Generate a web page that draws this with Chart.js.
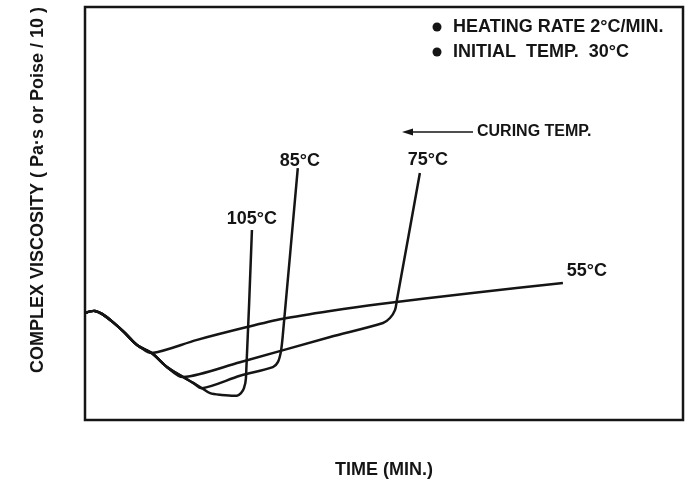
<!DOCTYPE html>
<html>
<head>
<meta charset="utf-8">
<script src="https://cdn.jsdelivr.net/npm/chart.js@4"></script>
<style>
  html, body { margin: 0; padding: 0; background: #fff; }
</style>
</head>
<body>
<canvas id="viscosityChart" width="693" height="485"></canvas>
<script>
// values: time in min (0-120), viscosity in arbitrary units (0-100)
const curveLabels = ['105°C', '85°C', '75°C', '55°C'];

const time105 = [0, 1.0, 2.0, 3.4, 5.6, 8.0, 10.0, 11.0, 13.4, 16.5, 19.7, 21.7, 23.5, 25.1, 27.1, 30.5, 31.3, 31.9, 32.3, 33.5];
const visc105 = [25.9, 26.3, 26.4, 25.7, 23.7, 21.1, 18.6, 17.7, 16.2, 12.8, 10.4, 9.0, 7.7, 6.5, 6.1, 5.9, 6.5, 7.7, 10.2, 46.0];

const time85 = [0, 1.0, 2.0, 3.4, 5.6, 8.0, 10.0, 11.0, 13.4, 16.5, 19.7, 21.7, 23.5, 31.1, 37.7, 38.7, 39.3, 39.7, 42.7];
const visc85 = [25.9, 26.3, 26.4, 25.7, 23.7, 21.1, 18.6, 17.7, 16.2, 12.8, 10.4, 9.0, 7.7, 10.7, 12.8, 14.0, 16.5, 20.6, 61.0];

const time75 = [0, 1.0, 2.0, 3.4, 5.6, 8.0, 10.0, 11.0, 13.4, 16.5, 19.7, 31.1, 49.2, 59.8, 61.2, 62.2, 62.6, 67.2];
const visc75 = [25.9, 26.3, 26.4, 25.7, 23.7, 21.1, 18.6, 17.7, 16.2, 12.8, 10.4, 14.0, 20.1, 23.5, 24.7, 26.6, 29.1, 59.8];

const time55 = [0, 1.0, 2.0, 3.4, 5.6, 8.0, 10.0, 11.0, 13.4, 22.5, 32.5, 39.7, 49.2, 59.2, 77.3, 95.9];
const visc55 = [25.9, 26.3, 26.4, 25.7, 23.7, 21.1, 18.6, 17.7, 16.2, 19.4, 22.5, 24.5, 26.4, 28.1, 30.7, 33.2];

const notes = ['HEATING RATE 2°C/MIN.', 'INITIAL  TEMP.  30°C'];
const arrowNote = 'CURING TEMP.';

const ink = '#151515';
const fontFamily = '"Liberation Sans", Arial, sans-serif';

const toPoints = (xs, ys) => xs.map((x, i) => ({ x, y: ys[i] }));
const series = [
  toPoints(time105, visc105),
  toPoints(time85, visc85),
  toPoints(time75, visc75),
  toPoints(time55, visc55),
];

// label offsets from each curve's last point, in pixels
const labelOffsets = [[0, -11], [2, -7], [8, -13], [24, -12]];

const annotate = {
  id: 'annotate',
  afterDatasetsDraw(chart) {
    const { ctx, chartArea: a, scales: { x, y } } = chart;
    ctx.save();
    ctx.strokeStyle = ink;
    ctx.lineWidth = 2.5;
    ctx.strokeRect(a.left, a.top, a.right - a.left, a.bottom - a.top);

    ctx.fillStyle = ink;
    ctx.textBaseline = 'middle';
    ctx.textAlign = 'center';
    ctx.font = 'bold 18px ' + fontFamily;
    series.forEach((pts, i) => {
      const last = pts[pts.length - 1];
      const px = x.getPixelForValue(last.x) + labelOffsets[i][0];
      const py = y.getPixelForValue(last.y) + labelOffsets[i][1];
      ctx.fillText(curveLabels[i], px, py);
    });

    // notes in the top right corner
    ctx.textAlign = 'left';
    notes.forEach((t, i) => {
      const ny = 27 + i * 25;
      ctx.beginPath();
      ctx.arc(437, ny, 4.5, 0, Math.PI * 2);
      ctx.fill();
      ctx.fillText(t, 453, ny);
    });

    // curing temp arrow
    ctx.lineWidth = 1.5;
    ctx.beginPath();
    ctx.moveTo(410, 132);
    ctx.lineTo(473, 132);
    ctx.stroke();
    ctx.beginPath();
    ctx.moveTo(402, 132);
    ctx.lineTo(413, 128.5);
    ctx.lineTo(413, 135.5);
    ctx.closePath();
    ctx.fill();
    ctx.font = 'bold 16px ' + fontFamily;
    ctx.fillText(arrowNote, 477, 132);
    ctx.restore();
  },
};

new Chart(document.getElementById('viscosityChart'), {
  type: 'scatter',
  data: {
    datasets: series.map((pts, i) => ({
      label: curveLabels[i],
      data: pts,
      showLine: true,
      borderColor: ink,
      borderWidth: 2.5,
      pointRadius: 0,
      tension: 0.3,
      fill: false,
    })),
  },
  options: {
    responsive: false,
    animation: false,
    devicePixelRatio: 1,
    layout: { padding: { top: 7, right: 10, left: 0, bottom: 0 } },
    plugins: { legend: { display: false }, tooltip: { enabled: false } },
    scales: {
      x: {
        type: 'linear',
        min: 0,
        max: 120,
        grid: { display: false },
        border: { display: false },
        ticks: { display: false },
        title: {
          display: true,
          text: 'TIME (MIN.)',
          color: ink,
          font: { family: fontFamily, size: 18, weight: 'bold' },
          padding: { top: 0, bottom: 4 },
        },
        afterFit(scale) { scale.height = 65; },
      },
      y: {
        type: 'linear',
        min: 0,
        max: 100,
        grid: { display: false },
        border: { display: false },
        ticks: { display: false },
        title: {
          display: true,
          text: 'COMPLEX VISCOSITY ( Pa·s or Poise / 10 )',
          align: 'end',
          color: ink,
          font: { family: fontFamily, size: 18, weight: 'bold' },
          padding: { top: 27, bottom: 0 },
        },
        afterFit(scale) { scale.width = 85; },
      },
    },
  },
  plugins: [annotate],
});
</script>
</body>
</html>
